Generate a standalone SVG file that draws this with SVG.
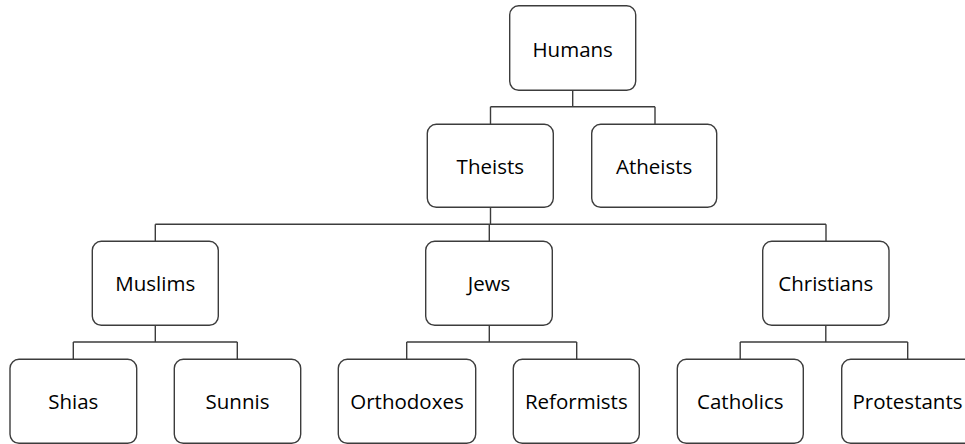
<svg xmlns="http://www.w3.org/2000/svg" width="965" height="444" viewBox="0 0 965 444">
<style>
.box{fill:#fff;stroke:#3c3c3c;stroke-width:1.4}
.lbl{font-family:"Open Sans","Noto Sans",sans-serif;font-size:20.5px;fill:#000;text-anchor:middle}
.con{fill:none;stroke:#3c3c3c;stroke-width:1.4}
</style>
<rect width="965" height="444" fill="#fff"/>
<g id="connectors">
<path class="con" d="M572.7 90.5V106.7M490.5 106.7H655M490.5 106.7V124.3M655 106.7V124.3"/>
<path class="con" d="M490.5 207.3V224.3M155.3 224.3H826M155.3 224.3V241.3M489.3 224.3V241.3M826 224.3V241.3"/>
<path class="con" d="M155.3 325.3V342M73.3 342H237.3M73.3 342V359.3M237.3 342V359.3"/>
<path class="con" d="M489.3 325.3V342M406.7 342H576.7M406.7 342V359.3M576.7 342V359.3"/>
<path class="con" d="M825.8 325.3V342M740.2 342H907.7M740.2 342V359.3M907.7 342V359.3"/>
</g>
<g id="humans"><rect class="box" x="509.7" y="5.8" width="126" height="84.5" rx="9"/><text class="lbl" x="572.7" y="56.5">Humans</text></g>
<g id="theists"><rect class="box" x="427.3" y="124.3" width="126" height="83" rx="9"/><text class="lbl" x="490.3" y="174">Theists</text></g>
<g id="atheists"><rect class="box" x="591.7" y="124.3" width="125" height="83" rx="9"/><text class="lbl" x="654.2" y="174">Atheists</text></g>
<g id="muslims"><rect class="box" x="92.3" y="241.3" width="126" height="84" rx="9"/><text class="lbl" x="155.3" y="291">Muslims</text></g>
<g id="jews"><rect class="box" x="425.7" y="241.3" width="126.6" height="84" rx="9"/><text class="lbl" x="489" y="291">Jews</text></g>
<g id="christians"><rect class="box" x="762.7" y="241.3" width="126.3" height="84" rx="9"/><text class="lbl" x="825.8" y="291">Christians</text></g>
<g id="shias"><rect class="box" x="10" y="359.3" width="126.7" height="84" rx="9"/><text class="lbl" x="73.3" y="409">Shias</text></g>
<g id="sunnis"><rect class="box" x="174.3" y="359.3" width="126.4" height="84" rx="9"/><text class="lbl" x="237.5" y="409">Sunnis</text></g>
<g id="orthodoxes"><rect class="box" x="338.3" y="359.3" width="137.4" height="84" rx="9"/><text class="lbl" x="407" y="409">Orthodoxes</text></g>
<g id="reformists"><rect class="box" x="513.3" y="359.3" width="126" height="84" rx="9"/><text class="lbl" x="576.3" y="409">Reformists</text></g>
<g id="catholics"><rect class="box" x="677.3" y="359.3" width="126" height="84" rx="9"/><text class="lbl" x="740.3" y="409">Catholics</text></g>
<g id="protestants"><rect class="box" x="841.7" y="359.3" width="132" height="84" rx="9"/><text class="lbl" x="907.5" y="409">Protestants</text></g>
</svg>
